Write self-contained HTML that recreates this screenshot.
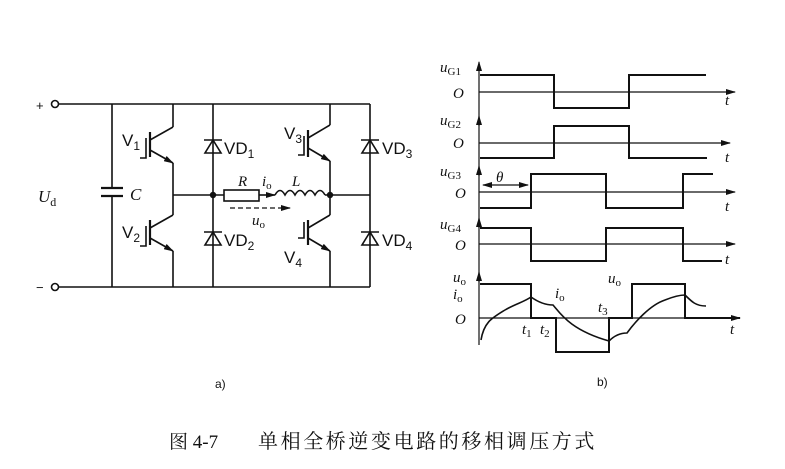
<!DOCTYPE html>
<html><head><meta charset="utf-8"><style>
html,body{margin:0;padding:0;background:#fff}
svg{display:block}
text{font-family:"Liberation Serif","Noto Serif CJK SC",serif;fill:#111}
.s{font-family:"Liberation Sans",sans-serif}
.i{font-style:italic}
</style></head><body>
<svg width="785" height="469" viewBox="0 0 785 469" xmlns="http://www.w3.org/2000/svg">
<defs>
<marker id="ar" markerWidth="10" markerHeight="6" refX="9" refY="3" orient="auto" markerUnits="userSpaceOnUse"><path d="M0,0 L10,3 L0,6 Z" fill="#111"/></marker>
<marker id="ar2" markerWidth="10" markerHeight="6" refX="1" refY="3" orient="auto" markerUnits="userSpaceOnUse"><path d="M10,0 L0,3 L10,6 Z" fill="#111"/></marker>
</defs>
<g stroke="#111" stroke-width="1.6" fill="none">
<circle cx="55" cy="104" r="3.5" fill="#fff"/>
<circle cx="55" cy="287" r="3.5" fill="#fff"/>
<line x1="59" y1="104" x2="370" y2="104"/>
<line x1="59" y1="287" x2="370" y2="287"/>
<line x1="112" y1="104" x2="112" y2="188"/>
<line x1="112" y1="196" x2="112" y2="287"/>
<line x1="101" y1="188" x2="123" y2="188" stroke-width="2.2"/>
<line x1="101" y1="196" x2="123" y2="196" stroke-width="2.2"/>
<line x1="173" y1="104" x2="173" y2="127"/>
<line x1="173" y1="127" x2="150" y2="140"/>
<line x1="150" y1="150" x2="173" y2="163" marker-end="url(#ar)"/>
<line x1="173" y1="163" x2="173" y2="215"/>
<line x1="150" y1="132" x2="150" y2="157" stroke-width="2.2"/>
<polyline points="140,158 146,158 146,138"/>
<line x1="173" y1="215" x2="150" y2="228"/>
<line x1="150" y1="238" x2="173" y2="251" marker-end="url(#ar)"/>
<line x1="173" y1="251" x2="173" y2="287"/>
<line x1="150" y1="220" x2="150" y2="245" stroke-width="2.2"/>
<polyline points="140,246 146,246 146,226"/>
<line x1="173" y1="195" x2="224" y2="195"/>
<line x1="213" y1="104" x2="213" y2="287"/>
<path d="M205,153 L221,153 L213,140 Z"/><line x1="204" y1="140" x2="222" y2="140"/>
<path d="M205,245 L221,245 L213,232 Z"/><line x1="204" y1="232" x2="222" y2="232"/>
<rect x="224" y="190" width="35" height="11"/>
<line x1="259" y1="195" x2="275" y2="195" marker-end="url(#ar)"/>
<path d="M275,195 q5,-9 10,0 q5,-9 10,0 q5,-9 10,0 q5,-9 10,0 q5,-9 10,0"/>
<line x1="325" y1="195" x2="370" y2="195"/>
<line x1="230" y1="208" x2="290" y2="208" stroke-dasharray="5,3" stroke-width="1.2" marker-end="url(#ar)"/>
<line x1="330" y1="104" x2="330" y2="125"/>
<line x1="330" y1="125" x2="308" y2="138"/>
<line x1="308" y1="148" x2="330" y2="161" marker-end="url(#ar)"/>
<line x1="330" y1="161" x2="330" y2="215"/>
<line x1="308" y1="130" x2="308" y2="157" stroke-width="2.2"/>
<polyline points="298,155 304,155 304,136"/>
<line x1="330" y1="215" x2="308" y2="228"/>
<line x1="308" y1="238" x2="330" y2="251" marker-end="url(#ar)"/>
<line x1="330" y1="251" x2="330" y2="287"/>
<line x1="308" y1="220" x2="308" y2="245" stroke-width="2.2"/>
<polyline points="298,238 304,238 304,222"/>
<line x1="370" y1="104" x2="370" y2="287"/>
<path d="M362,153 L378,153 L370,140 Z"/><line x1="361" y1="140" x2="379" y2="140"/>
<path d="M362,245 L378,245 L370,232 Z"/><line x1="361" y1="232" x2="379" y2="232"/>
</g>
<circle cx="213" cy="195" r="3.2" fill="#111"/>
<circle cx="330" cy="195" r="3.2" fill="#111"/>
<g font-size="17">
<text x="36" y="110" class="s" font-size="13">+</text>
<text x="36" y="292" class="s" font-size="13">−</text>
<text x="38" y="202" class="i">U<tspan font-size="12" font-style="normal" dy="4">d</tspan></text>
<text x="130" y="200" class="i">C</text>
<text x="122" y="146" class="s" font-size="17">V<tspan font-size="12" dy="4">1</tspan></text>
<text x="122" y="238" class="s" font-size="17">V<tspan font-size="12" dy="4">2</tspan></text>
<text x="284" y="139" class="s" font-size="17">V<tspan font-size="12" dy="4">3</tspan></text>
<text x="284" y="263" class="s" font-size="17">V<tspan font-size="12" dy="4">4</tspan></text>
<text x="224" y="154" class="s" font-size="17">VD<tspan font-size="12" dy="4">1</tspan></text>
<text x="224" y="246" class="s" font-size="17">VD<tspan font-size="12" dy="4">2</tspan></text>
<text x="382" y="154" class="s" font-size="17">VD<tspan font-size="12" dy="4">3</tspan></text>
<text x="382" y="246" class="s" font-size="17">VD<tspan font-size="12" dy="4">4</tspan></text>
<text x="238" y="186" class="i" font-size="15">R</text>
<text x="262" y="186" class="i" font-size="15">i<tspan font-size="11" font-style="normal" dy="3">o</tspan></text>
<text x="292" y="186" class="i" font-size="15">L</text>
<text x="252" y="225" class="i" font-size="15">u<tspan font-size="11" font-style="normal" dy="3">o</tspan></text>
<text x="215" y="388" class="s" font-size="12">a)</text>
<text x="597" y="386" class="s" font-size="12">b)</text>
</g>
<g stroke="#111" stroke-width="1.2" fill="none">
<line x1="479" y1="345" x2="479" y2="62" marker-end="url(#ar)"/>
<line x1="479" y1="92" x2="735" y2="92" marker-end="url(#ar)"/>
<line x1="479" y1="143" x2="730" y2="143" marker-end="url(#ar)"/>
<line x1="479" y1="192" x2="735" y2="192" marker-end="url(#ar)"/>
<line x1="479" y1="244" x2="735" y2="244" marker-end="url(#ar)"/>
<line x1="479" y1="318" x2="740" y2="318" marker-end="url(#ar)"/>
<line x1="479" y1="126" x2="479" y2="116" marker-end="url(#ar)"/>
<line x1="479" y1="176" x2="479" y2="166" marker-end="url(#ar)"/>
<line x1="479" y1="228" x2="479" y2="218" marker-end="url(#ar)"/>
<line x1="479" y1="282" x2="479" y2="272" marker-end="url(#ar)"/>
<line x1="483" y1="185" x2="528" y2="185" marker-start="url(#ar2)" marker-end="url(#ar)"/>
</g>
<g stroke="#111" stroke-width="2" fill="none">
<polyline points="480,75 554,75 554,108 629,108 629,75 706,75"/>
<polyline points="480,158 554,158 554,126 629,126 629,158 707,158"/>
<polyline points="480,208 531,208 531,174 606,174 606,208 683,208 683,174 713,174"/>
<polyline points="480,228 531,228 531,261 606,261 606,228 683,228 683,261 722,261"/>
<polyline points="480,284 531,284 531,318 556,318 556,352 609,352 609,318 632,318 632,284 685,284 685,318 740,318"/>
<path d="M481,340 C484,322 492,318 505,310 C515,304 524,302 531,297 C538,302 545,305 553,305 C560,313 570,330 609,341 C614,336 620,333 627,333 C635,322 650,305 665,300 C675,296 680,295 685,295 C692,302 696,306 706,306" stroke-width="1.6"/>
</g>
<g font-size="15">
<text x="440" y="72" class="i">u<tspan font-size="11" font-style="normal" dy="3">G1</tspan></text>
<text x="453" y="98" class="i">O</text>
<text x="440" y="125" class="i">u<tspan font-size="11" font-style="normal" dy="3">G2</tspan></text>
<text x="453" y="148" class="i">O</text>
<text x="440" y="176" class="i">u<tspan font-size="11" font-style="normal" dy="3">G3</tspan></text>
<text x="455" y="198" class="i">O</text>
<text x="440" y="229" class="i">u<tspan font-size="11" font-style="normal" dy="3">G4</tspan></text>
<text x="455" y="250" class="i">O</text>
<text x="453" y="282" class="i">u<tspan font-size="11" font-style="normal" dy="3">o</tspan></text>
<text x="453" y="299" class="i">i<tspan font-size="11" font-style="normal" dy="3">o</tspan></text>
<text x="455" y="324" class="i">O</text>
<text x="496" y="182" class="i">θ</text>
<text x="725" y="105" class="i">t</text>
<text x="725" y="162" class="i">t</text>
<text x="725" y="211" class="i">t</text>
<text x="725" y="264" class="i">t</text>
<text x="730" y="334" class="i">t</text>
<text x="522" y="334" class="i">t<tspan font-size="11" font-style="normal" dy="3">1</tspan></text>
<text x="540" y="334" class="i">t<tspan font-size="11" font-style="normal" dy="3">2</tspan></text>
<text x="598" y="312" class="i">t<tspan font-size="11" font-style="normal" dy="3">3</tspan></text>
<text x="555" y="298" class="i">i<tspan font-size="11" font-style="normal" dy="3">o</tspan></text>
<text x="608" y="283" class="i">u<tspan font-size="11" font-style="normal" dy="3">o</tspan></text>
</g>
<text x="169" y="448" font-size="19">图 4-7</text>
<text x="258" y="448" font-size="20" letter-spacing="2.6">单相全桥逆变电路的移相调压方式</text>
</svg>
</body></html>
